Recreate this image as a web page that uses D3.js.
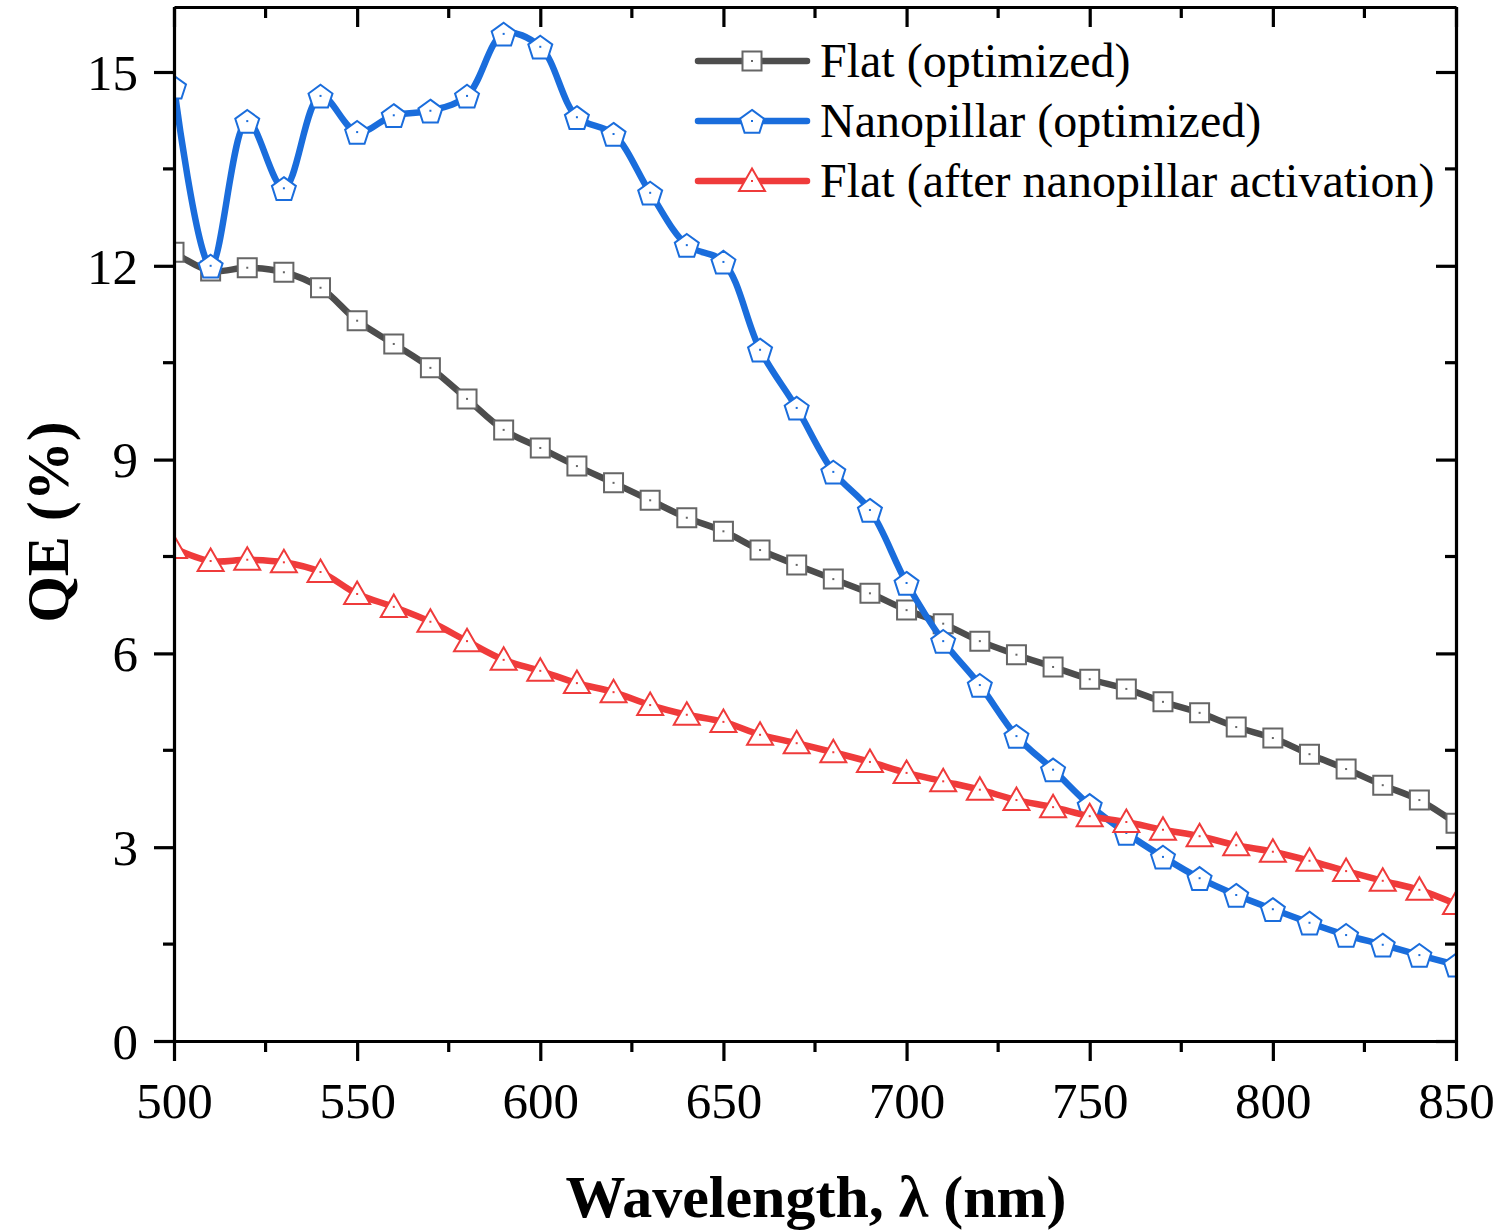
<!DOCTYPE html>
<html>
<head>
<meta charset="utf-8">
<script src="https://cdn.jsdelivr.net/npm/d3@7"></script>
<style>
  html, body { margin: 0; padding: 0; background: #ffffff; }
  svg { display: block; font-family: "Liberation Serif", "Times New Roman", serif; }
</style>
</head>
<body>
<svg id="chart" width="1504" height="1231"></svg>
<script>
// Wavelength grid (nm)
const wavelengths = [500,510,520,530,540,550,560,570,580,590,600,610,620,630,640,650,660,670,680,690,
                     700,710,720,730,740,750,760,770,780,790,800,810,820,830,840,850];

// QE (%) of the three devices
const flatOptimized = [12.21,11.92,11.97,11.90,11.66,11.15,10.79,10.42,9.94,9.46,9.18,8.90,8.64,8.37,8.10,7.89,
                       7.60,7.37,7.15,6.93,6.67,6.46,6.19,5.98,5.79,5.60,5.45,5.25,5.08,4.86,4.69,4.44,4.21,3.96,3.73,3.37];
const nanopillarOptimized = [14.77,12.00,14.24,13.20,14.63,14.07,14.33,14.40,14.63,15.59,15.39,14.30,14.04,13.13,12.32,12.06,
                       10.70,9.80,8.81,8.22,7.09,6.19,5.51,4.72,4.20,3.65,3.22,2.85,2.52,2.26,2.04,1.83,1.64,1.49,1.33,1.18];
const flatAfterActivation = [7.63,7.43,7.45,7.41,7.26,6.92,6.72,6.49,6.19,5.90,5.73,5.54,5.40,5.20,5.05,4.94,
                       4.74,4.61,4.47,4.32,4.15,4.02,3.89,3.73,3.62,3.48,3.39,3.27,3.17,3.03,2.93,2.79,2.63,2.48,2.34,2.12];

const seriesNames = ["Flat (optimized)", "Nanopillar (optimized)", "Flat (after nanopillar activation)"];

const xTicks = [500,550,600,650,700,750,800,850];
const xMinorTicks = [525,575,625,675,725,775,825];
const yTicks = [0,3,6,9,12,15];
const yMinorTicks = [1.5,4.5,7.5,10.5,13.5];

const series = [
  { name: seriesNames[0], values: flatOptimized,       line: "#4d4d4d", mark: "#666666", shape: "square" },
  { name: seriesNames[1], values: nanopillarOptimized, line: "#1a6ddc", mark: "#1a6ddc", shape: "pentagon" },
  { name: seriesNames[2], values: flatAfterActivation, line: "#ef3b3b", mark: "#ef3b3b", shape: "triangle" }
];

const svg = d3.select("#chart");
const plotLeft = 174, plotRight = 1456, plotTop = 7, plotBottom = 1041;
const lineWidth = 6.5;

const x = d3.scaleLinear().domain([500, 850]).range([plotLeft, plotRight]);
// 15 % sits at y=72; the frame continues a little above it
const yBase = d3.scaleLinear().domain([0, 15]).range([plotBottom, 72]);
const y = d3.scaleLinear().domain([0, yBase.invert(plotTop)]).range([plotBottom, plotTop]);

svg.append("defs").append("clipPath").attr("id", "plotClip")
  .append("rect").attr("x", plotLeft).attr("y", plotTop)
  .attr("width", plotRight - plotLeft).attr("height", plotBottom - plotTop);

const plot = svg.append("g").attr("clip-path", "url(#plotClip)");

const lineGen = d3.line()
  .x((d, i) => x(wavelengths[i]))
  .y(d => y(d))
  .curve(d3.curveCatmullRom.alpha(0.5));

function markerPath(shape) {
  if (shape === "square") {
    const s = 9.5;
    return `M${-s},${-s}H${s}V${s}H${-s}Z`;
  }
  if (shape === "pentagon") {
    const r = 12.6;
    const pts = d3.range(5).map(k => {
      const a = -Math.PI / 2 + k * 2 * Math.PI / 5;
      return [r * Math.cos(a), r * Math.sin(a) + 1.5];
    });
    return "M" + pts.map(p => p.join(",")).join("L") + "Z";
  }
  const r = 15;
  const pts = [0, 1, 2].map(k => {
    const a = -Math.PI / 2 + k * 2 * Math.PI / 3;
    return [r * Math.cos(a), r * Math.sin(a) + 2.5];
  });
  return "M" + pts.map(p => p.join(",")).join("L") + "Z";
}

// Each series: its curve, then its markers on top
series.forEach(s => {
  const g = plot.append("g");
  g.append("path")
    .datum(s.values)
    .attr("d", lineGen)
    .attr("fill", "none")
    .attr("stroke", s.line)
    .attr("stroke-width", lineWidth)
    .attr("stroke-linejoin", "round");
  const pts = g.selectAll("g.pt").data(s.values).join("g")
    .attr("class", "pt")
    .attr("transform", (d, i) => `translate(${x(wavelengths[i])},${y(d)})`);
  pts.append("path")
    .attr("d", markerPath(s.shape))
    .attr("fill", "#ffffff")
    .attr("stroke", s.mark)
    .attr("stroke-width", 2);
  pts.append("rect")
    .attr("x", -1).attr("y", -1).attr("width", 2).attr("height", 2)
    .attr("fill", s.mark);
});

// Axes: outward ticks on bottom/left, inward on top/right
function addAxis(axisFn, transform, ticks, size, labels) {
  const g = svg.append("g").attr("transform", transform);
  g.call(axisFn.tickValues(ticks).tickSize(size).tickSizeOuter(0)
    .tickFormat(labels ? d3.format("d") : ""));
  g.select(".domain").attr("stroke", "#000").attr("stroke-width", 3.2);
  g.selectAll(".tick line").attr("stroke", "#000").attr("stroke-width", 3.2);
  return g;
}

const tickFont = 51;
const serif = "Liberation Serif, Times New Roman, serif";

const gx = addAxis(d3.axisBottom(x), `translate(0,${plotBottom})`, xTicks, 20, true);
gx.selectAll(".tick text").attr("font-size", tickFont).attr("fill", "#000")
  .attr("font-family", serif).attr("dy", null).attr("y", 77);
gx.append("g").selectAll("line").data(xMinorTicks).join("line")
  .attr("x1", d => x(d)).attr("x2", d => x(d)).attr("y1", 0).attr("y2", 11)
  .attr("stroke", "#000").attr("stroke-width", 3.2);

const gy = addAxis(d3.axisLeft(y), `translate(${plotLeft},0)`, yTicks, 20, true);
gy.selectAll(".tick text").attr("font-size", tickFont).attr("fill", "#000")
  .attr("font-family", serif).attr("x", -36).attr("dy", "0.34em");
gy.append("g").selectAll("line").data(yMinorTicks).join("line")
  .attr("y1", d => y(d)).attr("y2", d => y(d)).attr("x1", 0).attr("x2", -11)
  .attr("stroke", "#000").attr("stroke-width", 3.2);

const gt = addAxis(d3.axisTop(x), `translate(0,${plotTop})`, xTicks, -20, false);
gt.append("g").selectAll("line").data(xMinorTicks).join("line")
  .attr("x1", d => x(d)).attr("x2", d => x(d)).attr("y1", 0).attr("y2", 11)
  .attr("stroke", "#000").attr("stroke-width", 3.2);

const gr = addAxis(d3.axisRight(y), `translate(${plotRight},0)`, yTicks, -20, false);
gr.append("g").selectAll("line").data(yMinorTicks).join("line")
  .attr("y1", d => y(d)).attr("y2", d => y(d)).attr("x1", 0).attr("x2", -11)
  .attr("stroke", "#000").attr("stroke-width", 3.2);

// Axis titles
svg.append("text")
  .attr("x", (plotLeft + plotRight) / 2 + 1).attr("y", 1217)
  .attr("text-anchor", "middle")
  .attr("font-size", 60).attr("font-weight", "bold")
  .text("Wavelength, λ (nm)");

svg.append("text")
  .attr("transform", "translate(68,522) rotate(-90)")
  .attr("text-anchor", "middle")
  .attr("font-size", 60).attr("font-weight", "bold")
  .text("QE (%)");

// Legend
const legend = svg.append("g");
series.forEach((s, i) => {
  const cy = 61 + i * 60;
  legend.append("line")
    .attr("x1", 698).attr("x2", 807).attr("y1", cy).attr("y2", cy)
    .attr("stroke", s.line).attr("stroke-width", lineWidth).attr("stroke-linecap", "round");
  const m = legend.append("g").attr("transform", `translate(752,${cy})`);
  m.append("path").attr("d", markerPath(s.shape))
    .attr("fill", "#ffffff").attr("stroke", s.mark).attr("stroke-width", 2);
  m.append("rect").attr("x", -1).attr("y", -1).attr("width", 2).attr("height", 2).attr("fill", s.mark);
  legend.append("text")
    .attr("x", 820).attr("y", cy + 16)
    .attr("font-size", 48).attr("fill", "#000")
    .text(s.name);
});
</script>
</body>
</html>
